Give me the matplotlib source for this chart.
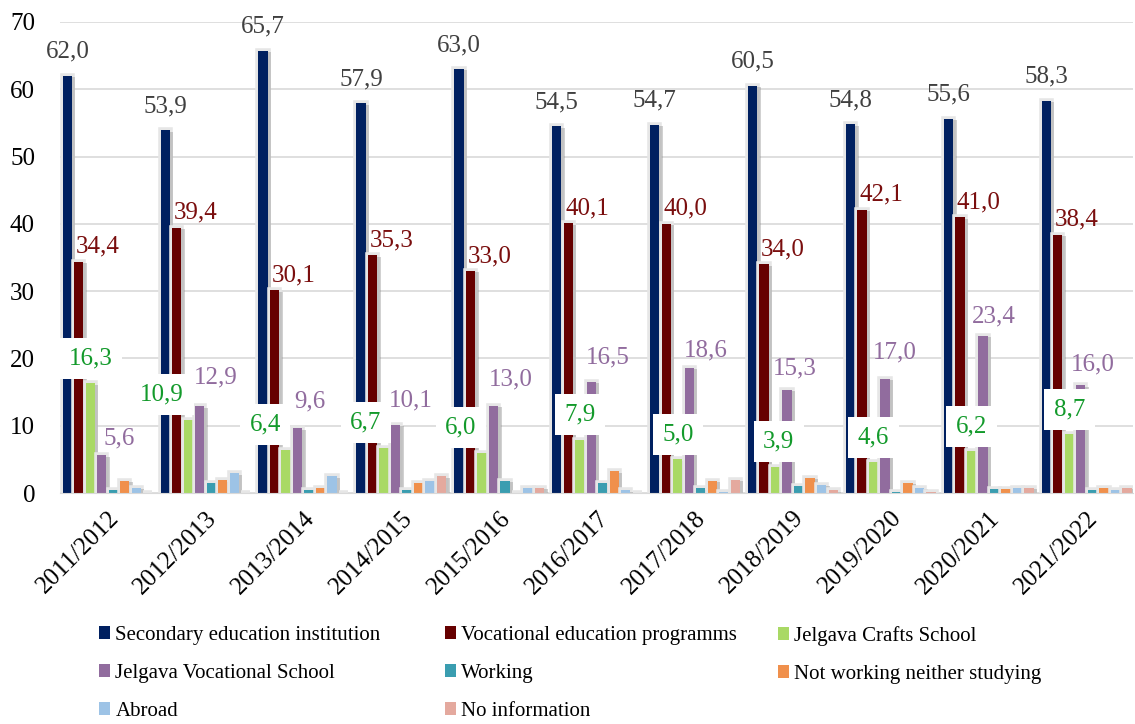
import matplotlib
matplotlib.use("Agg")
import matplotlib.pyplot as plt
import matplotlib.patheffects as pe
from matplotlib.patches import Patch
import numpy as np

plt.rcParams['font.family'] = ['Liberation Serif', 'DejaVu Serif']

years = ["2011/2012", "2012/2013", "2013/2014", "2014/2015", "2015/2016", "2016/2017",
         "2017/2018", "2018/2019", "2019/2020", "2020/2021", "2021/2022"]
secondary = [62.0, 53.9, 65.7, 57.9, 63.0, 54.5, 54.7, 60.5, 54.8, 55.6, 58.3]
vocational = [34.4, 39.4, 30.1, 35.3, 33.0, 40.1, 40.0, 34.0, 42.1, 41.0, 38.4]
crafts = [16.3, 10.9, 6.4, 6.7, 6.0, 7.9, 5.0, 3.9, 4.6, 6.2, 8.7]
jvs = [5.6, 12.9, 9.6, 10.1, 13.0, 16.5, 18.6, 15.3, 17.0, 23.4, 16.0]
working = [0.5, 1.5, 0.5, 0.5, 1.8, 1.5, 0.7, 1.1, 0.1, 0.6, 0.5]
not_working = [1.8, 1.9, 0.8, 1.5, 0.0, 3.2, 1.8, 2.3, 1.5, 0.55, 0.8]
abroad = [0.8, 2.9, 2.5, 1.8, 0.8, 0.4, 0.2, 1.2, 0.8, 0.8, 0.4]
no_info = [0.0, 0.0, 0.0, 2.5, 0.8, 0.0, 2.0, 0.4, 0.15, 0.8, 0.8]

series = [
    ("Secondary education institution", secondary, "#002060"),
    ("Vocational education programms", vocational, "#660000"),
    ("Jelgava Crafts School", crafts, "#A9D965"),
    ("Jelgava Vocational School", jvs, "#916C9E"),
    ("Working", working, "#3A9DB0"),
    ("Not working neither studying", not_working, "#F0904C"),
    ("Abroad", abroad, "#9DC3E6"),
    ("No information", no_info, "#E4A99E"),
]

# label placement tweaks (pixels)
crafts_dx = [0, -26, -21, -18, -21, 0, 0, 3, 0, 0, 0]
jvs_dx = [17, 16, 12, 15, 17, 16, 17, 8, 10, 11, 12]
jvs_dy = [17, 29, 27, 25, 26, 25, 17, 22, 26, 19, 21]

P = 0.72  # px -> pt at 100 dpi

fig = plt.figure(figsize=(11.35, 7.24), dpi=100)
ax = fig.add_axes([60 / 1135, 231 / 724, 1073 / 1135, 471 / 724])

x = np.arange(len(years))
slot = 0.1175
width = 0.095
shadow = [pe.Stroke(linewidth=4, foreground="#e6e6e6"),
          pe.SimplePatchShadow(offset=(2.5, -1), shadow_rgbFace="#8c8c8c", alpha=0.4),
          pe.Normal()]

for i, (name, vals, col) in enumerate(series):
    bars = ax.bar(x + (i - 3.5) * slot, vals, width, color=col, label=name, zorder=2)
    for b in bars:
        b.set_path_effects(shadow)

pos = {i: x + (i - 3.5) * slot for i in range(8)}

for k in range(len(years)):
    ax.annotate(f"{secondary[k]:.1f}".replace(".", ","), (pos[0][k], secondary[k]),
                xytext=(0, 24 * P), textcoords="offset points", ha="center", va="center",
                fontsize=18, color="#404040", zorder=5)
    ax.annotate(f"{vocational[k]:.1f}".replace(".", ","), (pos[1][k], vocational[k]),
                xytext=(19 * P, 15 * P), textcoords="offset points", ha="center", va="center",
                fontsize=18, color="#7A0E0E", zorder=5)
    ax.annotate(f"{jvs[k]:.1f}".replace(".", ","), (pos[3][k], jvs[k]),
                xytext=(jvs_dx[k] * P, jvs_dy[k] * P), textcoords="offset points",
                ha="center", va="center", fontsize=18, color="#916C9E", zorder=5)
    ax.annotate(f"{crafts[k]:.1f}".replace(".", ","), (pos[2][k], crafts[k]),
                xytext=(crafts_dx[k] * P, 25 * P), textcoords="offset points",
                ha="center", va="center", fontsize=18, color="#139A2B", zorder=6,
                bbox=dict(boxstyle="square,pad=0.38", fc="white", ec="none"))

ax.set_ylim(0, 70)
ax.set_xlim(-0.486, 10.474)
ax.set_yticks(range(0, 71, 10))
ax.set_xticks(x)
ax.set_xticklabels(years, rotation=45, ha="right", rotation_mode="anchor", fontsize=18)
ax.tick_params(axis="y", labelsize=18, length=0, pad=18)
ax.tick_params(axis="x", length=0, pad=10)
ax.grid(axis="y", color="#d9d9d9", linewidth=1.2, zorder=0)
ax.set_axisbelow(True)
for s in ["top", "right", "left"]:
    ax.spines[s].set_visible(False)
ax.spines["bottom"].set_color("#d9d9d9")

# legend: three columns placed like the original
columns = [[0, 3, 6], [1, 4, 7], [2, 5]]
col_x = [99, 445, 778]
for idx, cx in zip(columns, col_x):
    leg = fig.legend([Patch(facecolor=series[i][2], edgecolor="none") for i in idx],
                     [series[i][0] for i in idx],
                     loc="upper left", bbox_to_anchor=((cx - 19) / 1135, 1 - 607 / 724),
                     frameon=False, fontsize=15, handlelength=0.55, handleheight=0.55,
                     handletextpad=0.25, labelspacing=0.92)

fig.savefig("out.png", dpi=100)
